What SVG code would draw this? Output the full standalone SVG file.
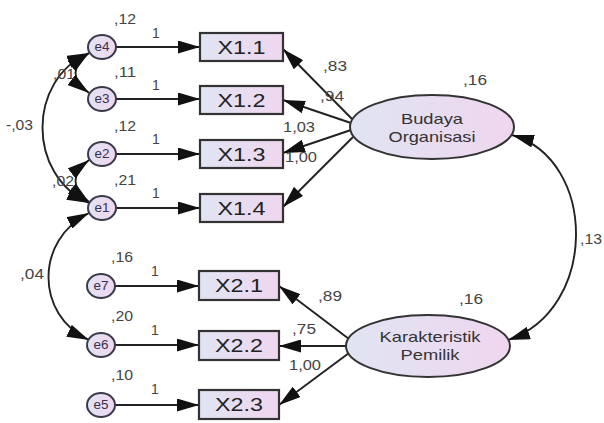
<svg xmlns="http://www.w3.org/2000/svg" width="604" height="423" viewBox="0 0 604 423">
<defs>
<linearGradient id="g" x1="0" y1="0" x2="1" y2="0">
<stop offset="0" stop-color="#e0e4f3"/>
<stop offset="1" stop-color="#efd6ef"/>
</linearGradient>
<marker id="ah" markerUnits="userSpaceOnUse" markerWidth="22" markerHeight="13" refX="22" refY="6.5" orient="auto-start-reverse">
<path d="M0,0 L22,6.5 L0,13 z" fill="#111"/>
</marker>
<style>
.err{fill:url(#g);stroke:#3a3a4a;stroke-width:2}
.box{fill:url(#g);stroke:#333;stroke-width:2.2}
.lat{fill:url(#g);stroke:#333;stroke-width:2}
.et{font-family:"Liberation Sans",Arial,sans-serif;font-size:12px;fill:#3a3050;text-anchor:middle}
.bt{font-family:"Liberation Sans",Arial,sans-serif;font-size:18px;fill:#222;text-anchor:middle}
.lt{font-family:"Liberation Sans",Arial,sans-serif;font-size:15px;fill:#333;text-anchor:middle}
.n{font-family:"Liberation Sans",Arial,sans-serif;font-size:14px;fill:#444}
.c line,.c path{stroke:#222;stroke-width:1.9;fill:none}
</style>
</defs>
<rect width="604" height="423" fill="#fff"/>
<g id="connectors" class="c">
<line x1="116" y1="47" x2="200" y2="47" marker-end="url(#ah)"/>
<line x1="116" y1="99" x2="200" y2="99" marker-end="url(#ah)"/>
<line x1="116" y1="154" x2="200" y2="154" marker-end="url(#ah)"/>
<line x1="116" y1="208" x2="200" y2="208" marker-end="url(#ah)"/>
<line x1="115" y1="286" x2="199" y2="286" marker-end="url(#ah)"/>
<line x1="115" y1="345" x2="199" y2="345" marker-end="url(#ah)"/>
<line x1="115" y1="405" x2="199" y2="405" marker-end="url(#ah)"/>
<line x1="352" y1="119" x2="283" y2="49" marker-end="url(#ah)"/>
<line x1="351" y1="123" x2="283" y2="100" marker-end="url(#ah)"/>
<line x1="351" y1="130" x2="283" y2="153" marker-end="url(#ah)"/>
<line x1="353" y1="137" x2="283" y2="207" marker-end="url(#ah)"/>
<line x1="349" y1="339" x2="279" y2="286" marker-end="url(#ah)"/>
<line x1="347" y1="346" x2="279" y2="346" marker-end="url(#ah)"/>
<line x1="349" y1="353" x2="279" y2="405" marker-end="url(#ah)"/>
<path d="M89,53 Q62,73 89,93" marker-start="url(#ah)" marker-end="url(#ah)"/>
<path d="M89,53 C27,80 27,175 89,203" marker-start="url(#ah)" marker-end="url(#ah)"/>
<path d="M89,160 Q62,181 89,202" marker-start="url(#ah)" marker-end="url(#ah)"/>
<path d="M89,213 C35,240 35,315 89,340" marker-start="url(#ah)" marker-end="url(#ah)"/>
<path d="M512,135 C598,160 598,310 508,340" marker-start="url(#ah)" marker-end="url(#ah)"/>
</g>
<g id="e4"><ellipse class="err" cx="102" cy="47" rx="14" ry="12"/><text class="et" x="102" y="51" textLength="15" lengthAdjust="spacingAndGlyphs">e4</text></g>
<g id="e3"><ellipse class="err" cx="102" cy="99" rx="14" ry="12"/><text class="et" x="102" y="103" textLength="15" lengthAdjust="spacingAndGlyphs">e3</text></g>
<g id="e2"><ellipse class="err" cx="102" cy="154" rx="14" ry="12"/><text class="et" x="102" y="158" textLength="15" lengthAdjust="spacingAndGlyphs">e2</text></g>
<g id="e1"><ellipse class="err" cx="102" cy="208" rx="14" ry="12"/><text class="et" x="102" y="212" textLength="15" lengthAdjust="spacingAndGlyphs">e1</text></g>
<g id="e7"><ellipse class="err" cx="101" cy="286" rx="14" ry="12"/><text class="et" x="101" y="290" textLength="15" lengthAdjust="spacingAndGlyphs">e7</text></g>
<g id="e6"><ellipse class="err" cx="101" cy="345" rx="14" ry="12"/><text class="et" x="101" y="349" textLength="15" lengthAdjust="spacingAndGlyphs">e6</text></g>
<g id="e5"><ellipse class="err" cx="101" cy="405" rx="14" ry="12"/><text class="et" x="101" y="409" textLength="15" lengthAdjust="spacingAndGlyphs">e5</text></g>
<g id="X1.1"><rect class="box" x="200" y="33" width="83" height="28"/><text class="bt" x="241.5" y="54" textLength="48" lengthAdjust="spacingAndGlyphs">X1.1</text></g>
<g id="X1.2"><rect class="box" x="200" y="86" width="83" height="28"/><text class="bt" x="241.5" y="107" textLength="48" lengthAdjust="spacingAndGlyphs">X1.2</text></g>
<g id="X1.3"><rect class="box" x="200" y="140" width="83" height="28"/><text class="bt" x="241.5" y="161" textLength="48" lengthAdjust="spacingAndGlyphs">X1.3</text></g>
<g id="X1.4"><rect class="box" x="200" y="194" width="83" height="28"/><text class="bt" x="241.5" y="215" textLength="48" lengthAdjust="spacingAndGlyphs">X1.4</text></g>
<g id="X2.1"><rect class="box" x="199" y="271" width="80" height="29"/><text class="bt" x="239" y="292" textLength="48" lengthAdjust="spacingAndGlyphs">X2.1</text></g>
<g id="X2.2"><rect class="box" x="199" y="331" width="80" height="29"/><text class="bt" x="239" y="352" textLength="48" lengthAdjust="spacingAndGlyphs">X2.2</text></g>
<g id="X2.3"><rect class="box" x="199" y="390" width="80" height="29"/><text class="bt" x="239" y="411" textLength="48" lengthAdjust="spacingAndGlyphs">X2.3</text></g>
<g id="Budaya"><ellipse class="lat" cx="432" cy="127" rx="82" ry="32"/><text class="lt" x="432" y="124" textLength="62" lengthAdjust="spacingAndGlyphs">Budaya</text><text class="lt" x="432" y="142" textLength="87" lengthAdjust="spacingAndGlyphs">Organisasi</text></g>
<g id="Karakteristik"><ellipse class="lat" cx="428" cy="346" rx="82" ry="31"/><text class="lt" x="430" y="342" textLength="101" lengthAdjust="spacingAndGlyphs">Karakteristik</text><text class="lt" x="430" y="360" textLength="59" lengthAdjust="spacingAndGlyphs">Pemilik</text></g>
<g id="labels">
<text class="n" x="114" y="24" textLength="22" lengthAdjust="spacingAndGlyphs">,12</text>
<text class="n" x="114" y="77" textLength="22" lengthAdjust="spacingAndGlyphs">,11</text>
<text class="n" x="114" y="131" textLength="22" lengthAdjust="spacingAndGlyphs">,12</text>
<text class="n" x="114" y="185" textLength="22" lengthAdjust="spacingAndGlyphs">,21</text>
<text class="n" x="111" y="262" textLength="22" lengthAdjust="spacingAndGlyphs">,16</text>
<text class="n" x="111" y="321" textLength="22" lengthAdjust="spacingAndGlyphs">,20</text>
<text class="n" x="111" y="380" textLength="22" lengthAdjust="spacingAndGlyphs">,10</text>
<text class="n" x="152" y="38">1</text>
<text class="n" x="152" y="90">1</text>
<text class="n" x="152" y="144">1</text>
<text class="n" x="152" y="198">1</text>
<text class="n" x="151" y="276">1</text>
<text class="n" x="151" y="335">1</text>
<text class="n" x="151" y="394">1</text>
<text class="n" x="53" y="79" textLength="22" lengthAdjust="spacingAndGlyphs">,01</text>
<text class="n" x="6" y="130" textLength="27" lengthAdjust="spacingAndGlyphs">-,03</text>
<text class="n" x="52" y="186" textLength="22" lengthAdjust="spacingAndGlyphs">,02</text>
<text class="n" x="20" y="279" textLength="24" lengthAdjust="spacingAndGlyphs">,04</text>
<text class="n" x="323" y="71" textLength="24" lengthAdjust="spacingAndGlyphs">,83</text>
<text class="n" x="320" y="101" textLength="24" lengthAdjust="spacingAndGlyphs">,94</text>
<text class="n" x="283" y="132" textLength="32" lengthAdjust="spacingAndGlyphs">1,03</text>
<text class="n" x="285" y="162" textLength="32" lengthAdjust="spacingAndGlyphs">1,00</text>
<text class="n" x="463" y="85" textLength="24" lengthAdjust="spacingAndGlyphs">,16</text>
<text class="n" x="580" y="244" textLength="22" lengthAdjust="spacingAndGlyphs">,13</text>
<text class="n" x="459" y="304" textLength="24" lengthAdjust="spacingAndGlyphs">,16</text>
<text class="n" x="318" y="301" textLength="24" lengthAdjust="spacingAndGlyphs">,89</text>
<text class="n" x="292" y="334" textLength="24" lengthAdjust="spacingAndGlyphs">,75</text>
<text class="n" x="289" y="370" textLength="32" lengthAdjust="spacingAndGlyphs">1,00</text>
</g>
</svg>
